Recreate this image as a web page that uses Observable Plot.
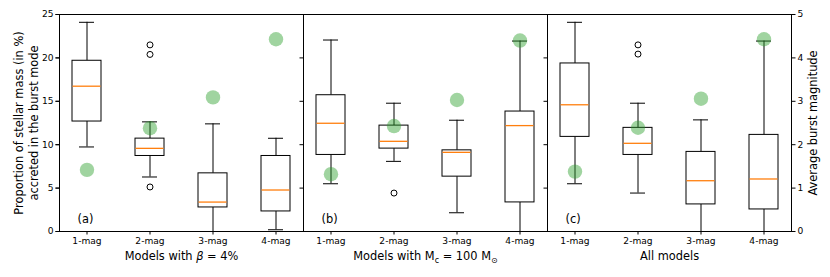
<!DOCTYPE html>
<html>
<head>
<meta charset="utf-8">
<script src="https://cdn.jsdelivr.net/npm/d3@7"></script>
<script src="https://cdn.jsdelivr.net/npm/@observablehq/plot@0.6"></script>
<style>
  html, body { margin: 0; padding: 0; background: white; }
  #chart svg { display: block; }
</style>
</head>
<body>
<div id="chart"></div>
<script>
// ---- data ----
const panels = ["a", "b", "c"];
const panelTitles = ["Models with β = 4%", "Models with Mc = 100 M⊙", "All models"];
const categories = ["1-mag", "2-mag", "3-mag", "4-mag"];
const yTicks = [0, 5, 10, 15, 20, 25];
const magTicks = [0, 1, 2, 3, 4, 5];

// panel (a): Models with beta = 4%
const aLow    = [9.74, 6.28, 0.0, 0.2];
const aQ1     = [12.67, 8.7, 2.77, 2.31];
const aMedian = [16.74, 9.58, 3.39, 4.78];
const aQ3     = [19.67, 10.7, 6.7, 8.7];
const aHigh   = [24.1, 12.63, 12.4, 10.74];
const aMag    = [1.42, 2.38, 3.09, 4.43];
const aOutliers = [["2-mag", 21.5], ["2-mag", 20.4], ["2-mag", 5.13]];

// panel (b): Models with Mc = 100 Msun
const bLow    = [5.5, 8.08, 2.16, 0.0];
const bQ1     = [8.82, 9.55, 6.32, 3.35];
const bMedian = [12.47, 10.39, 9.12, 12.2];
const bQ3     = [15.7, 12.2, 9.35, 13.82];
const bHigh   = [22.06, 14.78, 12.82, 21.94];
const bMag    = [1.32, 2.43, 3.03, 4.40];
const bOutliers = [["2-mag", 4.43]];

// panel (c): All models
const cLow    = [5.5, 4.43, 0.0, 0.0];
const cQ1     = [10.9, 8.82, 3.12, 2.54];
const cMedian = [14.6, 10.16, 5.85, 6.05];
const cQ3     = [19.36, 11.94, 9.17, 11.13];
const cHigh   = [24.1, 14.78, 12.86, 21.94];
const cMag    = [1.38, 2.39, 3.06, 4.43];
const cOutliers = [["2-mag", 21.5], ["2-mag", 20.44]];

// ---- build tables ----
const stats = {
  a: [aLow, aQ1, aMedian, aQ3, aHigh, aMag, aOutliers],
  b: [bLow, bQ1, bMedian, bQ3, bHigh, bMag, bOutliers],
  c: [cLow, cQ1, cMedian, cQ3, cHigh, cMag, cOutliers]
};
const rows = [];
const outliers = [];
for (const p of panels) {
  const [lo, q1, med, q3, hi, mag, out] = stats[p];
  categories.forEach((cat, i) => {
    rows.push({panel: p, cat, lo: lo[i], q1: q1[i], med: med[i], q3: q3[i], hi: hi[i], mag: mag[i]});
  });
  for (const [cat, v] of out) outliers.push({panel: p, cat, v});
}
const panelRows = panels.map((p, i) => ({panel: p, title: panelTitles[i], tag: `(${p})`}));

const FS_TICK = 9.1, FS_LABEL = 11.4;

const chart = Plot.plot({
  width: 830,
  height: 277,
  marginLeft: 58,
  marginRight: 39,
  marginTop: 14,
  marginBottom: 46,
  style: {fontFamily: "DejaVu Sans", fontSize: FS_TICK + "px", background: "white", color: "black"},
  fx: {domain: panels, padding: 0, axis: null},
  x: {domain: categories, paddingInner: 0.547, paddingOuter: 0.18, axis: null},
  y: {domain: [0, 25], axis: null},
  marks: [
    // whiskers
    Plot.ruleX(rows, {fx: "panel", x: "cat", y1: "lo", y2: "q1", stroke: "black", strokeWidth: 1}),
    Plot.ruleX(rows, {fx: "panel", x: "cat", y1: "q3", y2: "hi", stroke: "black", strokeWidth: 1}),
    // caps
    Plot.tickY(rows, {fx: "panel", x: "cat", y: "lo", insetLeft: 7, insetRight: 7, stroke: "black", strokeWidth: 1}),
    Plot.tickY(rows, {fx: "panel", x: "cat", y: "hi", insetLeft: 7, insetRight: 7, stroke: "black", strokeWidth: 1}),
    // boxes
    Plot.barY(rows, {fx: "panel", x: "cat", y1: "q1", y2: "q3", fill: "white", stroke: "black", strokeWidth: 1}),
    // medians
    Plot.tickY(rows, {fx: "panel", x: "cat", y: "med", stroke: "#ff7f0e", strokeWidth: 1.3, insetLeft: 0.5, insetRight: 0.5}),
    // outliers
    Plot.dot(outliers, {fx: "panel", x: "cat", y: "v", r: 3, stroke: "black", fill: "none", strokeWidth: 1}),
    // average burst magnitude (right axis, 0-5 mapped onto 0-25)
    Plot.dot(rows, {fx: "panel", x: "cat", y: d => d.mag * 5, r: 7.2, fill: "#2ca02c", fillOpacity: 0.45, stroke: "none"}),
    // frames
    Plot.frame({stroke: "black", strokeWidth: 1}),
    // axes
    Plot.axisX({anchor: "bottom", tickSize: 3.5, tickPadding: 2.5, fontSize: FS_TICK, label: null}),
    Plot.axisY({anchor: "left", ticks: yTicks, tickSize: 3.5, tickPadding: 2.5, fontSize: FS_TICK, label: null}),
    Plot.axisY({anchor: "left", facetAnchor: null, ticks: yTicks, tickSize: 3.5, tickFormat: () => "", label: null}),
    Plot.axisY({anchor: "right", ticks: magTicks.map(m => m * 5), tickFormat: d => String(d / 5), tickSize: 3.5, tickPadding: 2.5, fontSize: FS_TICK, label: null}),
    // panel tags
    Plot.text(panelRows, {fx: "panel", text: "tag", frameAnchor: "bottom-left", textAnchor: "start", lineAnchor: "middle", dx: 18, dy: -12, fontSize: FS_LABEL}),
    // panel titles
    Plot.text(panelRows, {fx: "panel", text: "title", frameAnchor: "bottom", lineAnchor: "middle", dy: 25, fontSize: FS_LABEL}),
    // y labels
    Plot.text([{panel: "a"}], {fx: "panel", text: () => "Proportion of stellar mass (in %)", frameAnchor: "left", rotate: -90, textAnchor: "middle", lineAnchor: "middle", dx: -40, fontSize: FS_LABEL}),
    Plot.text([{panel: "a"}], {fx: "panel", text: () => "accreted in the burst mode", frameAnchor: "left", rotate: -90, textAnchor: "middle", lineAnchor: "middle", dx: -25.5, fontSize: FS_LABEL}),
    Plot.text([{panel: "c"}], {fx: "panel", text: () => "Average burst magnitude", frameAnchor: "right", rotate: -90, textAnchor: "middle", lineAnchor: "middle", dx: 22, fontSize: FS_LABEL})
  ]
});

// rich text for math parts of the panel titles
d3.select(chart).selectAll("text").each(function () {
  const t = this.textContent;
  const sel = d3.select(this);
  if (t === panelTitles[0]) {
    sel.text(null);
    sel.append("tspan").text("Models with ");
    sel.append("tspan").attr("font-style", "italic").text("β");
    sel.append("tspan").text(" = 4%");
  } else if (t === panelTitles[1]) {
    sel.text(null);
    sel.append("tspan").text("Models with M");
    sel.append("tspan").attr("font-size", "8px").attr("dy", "2.5").text("c");
    sel.append("tspan").attr("dy", "-2.5").text(" = 100 M");
    sel.append("tspan").attr("font-size", "8px").attr("dy", "2.5").text("⊙");
  }
});

document.getElementById("chart").appendChild(chart);
</script>
</body>
</html>
